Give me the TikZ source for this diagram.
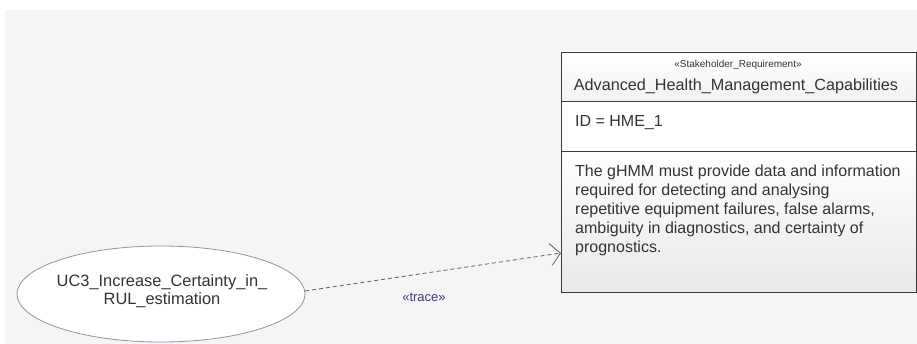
\documentclass[tikz,border=0pt]{standalone}
\usepackage{fontspec}
\setmainfont{Liberation Sans}
\usetikzlibrary{arrows.meta,shapes.geometric}
\definecolor{bgc}{HTML}{F5F5F5}
\definecolor{edgec}{HTML}{3A3A3A}
\definecolor{txtc}{HTML}{333333}
\definecolor{tracec}{HTML}{3C3C78}
\definecolor{ellc}{HTML}{8A98A8}
\tikzset{
  compart/.style={draw=edgec, line width=1.4pt},
  txt/.style={inner sep=0pt, text=txtc, anchor=base west, font=\fontsize{16}{19}\selectfont},
  uctxt/.style={inner sep=0pt, text=txtc, anchor=base, font=\fontsize{16.4}{17}\selectfont},
  dep/.style={draw=gray!75!black, dash pattern=on 4pt off 3pt, line width=0.8pt,
    -{Straight Barb[length=10pt,width=22pt,line width=0.8pt]}},
}
\begin{document}
\begin{tikzpicture}[x=1pt,y=-1pt]
\useasboundingbox (0,0) rectangle (917,344);
\fill[white] (0,0) rectangle (917,344);
\fill[bgc] (5,10) rectangle (917,344);
% requirement box compartments
\shade[top color=white, bottom color=gray!10] (561,52) rectangle (916,101);
\fill[white] (561,101) rectangle (916,151);
\shade[top color=white, middle color=white, bottom color=gray!18] (561,151) rectangle (916,292);
\node[compart, minimum width=355pt, minimum height=49pt, anchor=north west, inner sep=0pt] (hdr) at (561,52) {};
\node[compart, minimum width=355pt, minimum height=50pt, anchor=north west, inner sep=0pt] (idc) at (561,101) {};
\node[compart, minimum width=355pt, minimum height=141pt, anchor=north west, inner sep=0pt] (req) at (561,151) {};
\node[inner sep=0pt, text=txtc, font=\fontsize{10}{12}\selectfont] (st) at (738,65) {«Stakeholder\_Requirement»};
\node[inner sep=0pt, text=txtc, font=\fontsize{16.2}{19}\selectfont, anchor=base] (nm) at (736,91) {Advanced\_Health\_Management\_Capabilities};
\node[txt] (id) at (575,127) {ID = HME\_1};
\node[txt] (d1) at (575,177) {The gHMM must provide data and information};
\node[txt] (d2) at (575,196) {required for detecting and analysing};
\node[txt] (d3) at (575,215) {repetitive equipment failures, false alarms,};
\node[txt] (d4) at (575,234) {ambiguity in diagnostics, and certainty of};
\node[txt] (d5) at (575,253) {prognostics.};
% use case
\node[ellipse, draw=ellc, fill=white, line width=0.8pt, minimum width=288pt, minimum height=96pt, inner sep=0pt] (uc) at (161,294) {};
\node[uctxt] (u1) at (162,287) {UC3\_Increase\_Certainty\_in\_};
\node[uctxt] (u2) at (162,304) {RUL\_estimation};
% dependency
\coordinate (s) at (305,291);
\coordinate (t) at (561,253);
\draw[dep] (s) -- (t);
\node[inner sep=0pt, text=tracec, font=\fontsize{13}{15}\selectfont] (tr) at (424,297) {«trace»};
\end{tikzpicture}
\end{document}
